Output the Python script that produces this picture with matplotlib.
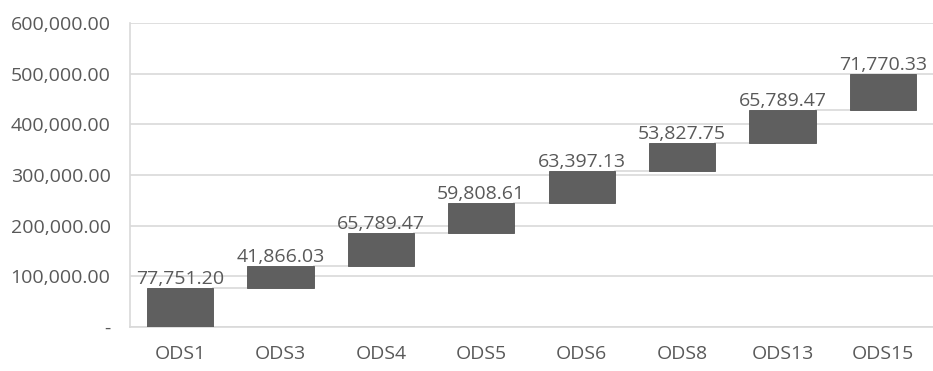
import matplotlib
matplotlib.use("Agg")
import matplotlib.pyplot as plt
from matplotlib.ticker import FuncFormatter
import numpy as np

categories = ["ODS1", "ODS3", "ODS4", "ODS5", "ODS6", "ODS8", "ODS13", "ODS15"]
values = [77751.20, 41866.03, 65789.47, 59808.61, 63397.13, 53827.75, 65789.47, 71770.33]
y_ticks = [0, 100000, 200000, 300000, 400000, 500000, 600000]

plt.rcParams['font.family'] = ['Open Sans', 'DejaVu Sans']

text_color = "#595959"
bar_color = "#5f5f5f"
grid_color = "#d9d9d9"

fig = plt.figure(figsize=(9.33, 3.71), dpi=100)
ax = fig.add_axes([130 / 933, 1 - 327 / 371, (933 - 130) / 933, (327 - 23) / 371])

vals = np.array(values)
ends = np.cumsum(vals)
starts = ends - vals
x = np.arange(len(categories))
width = 0.66

ax.bar(x, vals, bottom=starts, width=width, color=bar_color, edgecolor="#525252",
       linewidth=0.6, zorder=3)

# connectors between consecutive bars
for i in range(len(x) - 1):
    ax.plot([x[i] + width / 2, x[i + 1] - width / 2], [ends[i], ends[i]],
            color=grid_color, linewidth=1.2, zorder=2)

for xi, top, v in zip(x, ends, vals):
    ax.annotate(f"{v:,.2f}", (xi, top), xytext=(0, 0), textcoords="offset points",
                ha="center", va="bottom", fontsize=14, color=text_color, zorder=4)

ax.set_xlim(-0.5, len(categories) - 0.5)
ax.set_ylim(0, 600000)
ax.set_yticks(y_ticks)
ax.yaxis.set_major_formatter(FuncFormatter(lambda v, p: "-" if v == 0 else f"{v:,.2f}"))
ax.set_xticks(x)
ax.set_xticklabels(categories)

ax.grid(axis="y", color=grid_color, linewidth=1.2, zorder=0)
ax.set_axisbelow(True)
for s in ["top", "right"]:
    ax.spines[s].set_visible(False)
ax.spines["left"].set_color(grid_color)
ax.spines["left"].set_linewidth(1.2)
ax.spines["bottom"].set_color(grid_color)
ax.spines["bottom"].set_linewidth(1.2)
ax.tick_params(axis="both", length=0, labelsize=14, colors=text_color)
ax.tick_params(axis="y", pad=14)
ax.tick_params(axis="x", pad=13)

fig.savefig("out.png", dpi=100, facecolor="white")
